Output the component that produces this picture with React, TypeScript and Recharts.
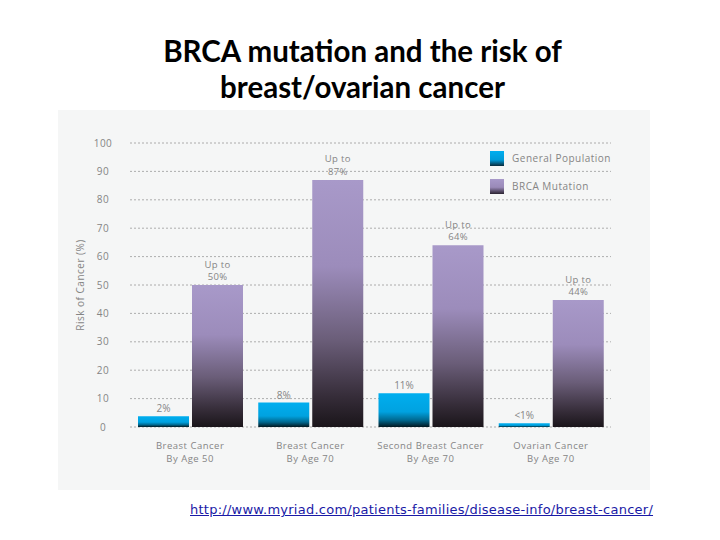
import { BarChart, Bar, XAxis, YAxis, CartesianGrid, LabelList } from 'recharts';

// categories (two text lines each)
const categories = [
  'Breast Cancer\nBy Age 50',
  'Breast Cancer\nBy Age 70',
  'Second Breast Cancer\nBy Age 70',
  'Ovarian Cancer\nBy Age 70',
];
const generalPopulation = [3.8, 8.6, 11.9, 1.3];
const brcaMutation = [50, 87, 64, 44.7];
const generalLabels = ['2%', '8%', '11%', '<1%'];
const brcaLabels = ['50%', '87%', '64%', '44%'];
const yTicks = [0, 10, 20, 30, 40, 50, 60, 70, 80, 90, 100];

const data = categories.map((name, i) => ({
  name,
  general: generalPopulation[i],
  brca: brcaMutation[i],
}));

const FONT = '"Open Sans", "DejaVu Sans", sans-serif';
const GREY = '#858585';

const XTick = ({ x, y, payload }: any) => {
  const lines = String(payload.value).split('\n');
  return (
    <g>
      {lines.map((line, i) => (
        <text key={i} x={x} y={y + 22 + i * 12.5} textAnchor="middle" fontSize={9.5} fill={GREY} fontFamily={FONT} letterSpacing={0.5}>
          {line}
        </text>
      ))}
    </g>
  );
};

const YTick = ({ x, y, payload }: any) => (
  <text x={x} y={y + 3.5} textAnchor="middle" fontSize={10} fill={GREY} fontFamily={FONT} letterSpacing={0.5}>
    {payload.value}
  </text>
);

const GeneralLabel = ({ x, y, width, index }: any) => (
  <text x={x + width / 2} y={y - 4} textAnchor="middle" fontSize={10} fill={GREY} fontFamily={FONT}>
    {generalLabels[index]}
  </text>
);

const BrcaLabel = ({ x, y, width, index }: any) => (
  <g>
    <text x={x + width / 2} y={y - 17.5} textAnchor="middle" fontSize={9.5} fill={GREY} fontFamily={FONT} letterSpacing={0.3}>
      Up to
    </text>
    <text x={x + width / 2} y={y - 5} textAnchor="middle" fontSize={9.5} fill={GREY} fontFamily={FONT} letterSpacing={0.3}>
      {brcaLabels[index]}
    </text>
  </g>
);

const legendItems = [
  { label: 'General Population', bg: 'linear-gradient(#00aeef 0%, #009ad8 60%, #0a2a3a 100%)' },
  { label: 'BRCA Mutation', bg: 'linear-gradient(#a899c9 0%, #9a8ab8 55%, #2a2230 100%)' },
];

export default function App() {
  return (
    <div style={{ position: 'absolute', left: 0, top: 0, width: 720, height: 540, background: '#fff', overflow: 'hidden' }}>
      <div
        style={{
          position: 'absolute',
          left: 0,
          top: 33,
          width: 725,
          textAlign: 'center',
          fontFamily: 'Lato, "Open Sans", sans-serif',
          fontWeight: 700,
          fontSize: 29.5,
          lineHeight: '36px',
          color: '#000',
        }}
      >
        BRCA mutation and the risk of
        <br />
        breast/ovarian cancer
      </div>

      <div style={{ position: 'absolute', left: 58, top: 110, width: 592, height: 380, background: '#f5f6f6' }}>
        <BarChart width={592} height={380} data={data} margin={{ top: 33, right: 39, left: 0, bottom: 23 }} barGap={3} barSize={51}>
          <defs>
            <linearGradient id="gradGeneral" x1="0" y1="0" x2="0" y2="1">
              <stop offset="0%" stopColor="#00aeef" />
              <stop offset="55%" stopColor="#00a2e0" />
              <stop offset="80%" stopColor="#00688f" />
              <stop offset="100%" stopColor="#021820" />
            </linearGradient>
            <linearGradient id="gradBrca" x1="0" y1="0" x2="0" y2="1">
              <stop offset="0%" stopColor="#a899c9" />
              <stop offset="35%" stopColor="#9c8cbb" />
              <stop offset="65%" stopColor="#6a5d78" />
              <stop offset="88%" stopColor="#352c38" />
              <stop offset="100%" stopColor="#1a151a" />
            </linearGradient>
          </defs>
          <CartesianGrid vertical={false} stroke="#9a9a9a" strokeDasharray="2 2" strokeWidth={0.8} />
          <XAxis dataKey="name" axisLine={false} tickLine={false} tickSize={0} tickMargin={0} height={40} tick={<XTick />} interval={0} />
          <YAxis
            domain={[0, 100]}
            ticks={yTicks}
            axisLine={false}
            tickLine={false}
            tickSize={0}
            tickMargin={27}
            width={72}
            tick={<YTick />}
            label={{
              content: ({ viewBox }: any) => {
                const cx = 22;
                const cy = viewBox.y + viewBox.height / 2;
                return (
                  <text x={cx} y={cy} transform={`rotate(-90 ${cx} ${cy})`} textAnchor="middle" dominantBaseline="central" fontSize={10} fill={GREY} fontFamily={FONT} letterSpacing={0.5}>
                    Risk of Cancer (%)
                  </text>
                );
              },
            }}
          />
          <Bar dataKey="general" name="General Population" fill="url(#gradGeneral)" isAnimationActive={false}>
            <LabelList dataKey="general" content={<GeneralLabel />} />
          </Bar>
          <Bar dataKey="brca" name="BRCA Mutation" fill="url(#gradBrca)" isAnimationActive={false}>
            <LabelList dataKey="brca" content={<BrcaLabel />} />
          </Bar>
        </BarChart>

        <div style={{ position: 'absolute', left: 432, top: 34, width: 150 }}>
          {legendItems.map((item) => (
            <div key={item.label} style={{ display: 'flex', alignItems: 'center', height: 28 }}>
              <div style={{ width: 14, height: 15, background: item.bg, marginRight: 8 }} />
              <span style={{ fontSize: 10, color: GREY, fontFamily: FONT, letterSpacing: 0.5 }}>{item.label}</span>
            </div>
          ))}
        </div>
      </div>

      <a
        href="http://www.myriad.com/patients-families/disease-info/breast-cancer/"
        style={{
          position: 'absolute',
          left: 190,
          top: 502,
          fontFamily: '"DejaVu Sans", sans-serif',
          fontSize: 13,
          letterSpacing: 0.25,
          color: '#1a1aa6',
          textDecoration: 'underline',
          whiteSpace: 'nowrap',
        }}
      >
        http://www.myriad.com/patients-families/disease-info/breast-cancer/
      </a>
    </div>
  );
}
